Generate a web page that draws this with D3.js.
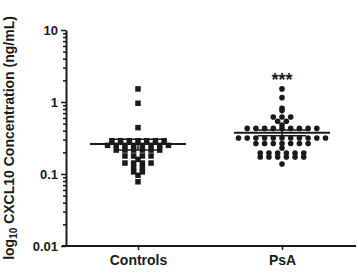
<!DOCTYPE html>
<html>
<head>
<meta charset="utf-8">
<script src="https://cdn.jsdelivr.net/npm/d3@7"></script>
<style>
  body { margin: 0; background: #fff; }
  svg { display: block; font-family: "Liberation Sans", Arial, sans-serif; font-weight: bold; }
</style>
</head>
<body>
<svg id="chart" width="358" height="277"></svg>
<script>
// values (ng/mL)
const categories = ["Controls", "PsA"];
const controlValues = [1.52, 0.96, 0.44,
  0.29, 0.29, 0.29, 0.29, 0.29, 0.29, 0.29,
  0.25, 0.25, 0.25, 0.25, 0.25, 0.25, 0.25, 0.25,
  0.215, 0.215, 0.215, 0.215, 0.215, 0.215,
  0.178, 0.178, 0.178, 0.178, 0.16,
  0.142, 0.142, 0.142, 0.142,
  0.122, 0.122, 0.107, 0.107, 0.096, 0.078];
const psaValues = [1.52, 1.15, 0.82, 0.76,
  0.62, 0.62, 0.62, 0.54, 0.54, 0.48,
  0.43, 0.43, 0.43, 0.43, 0.43, 0.43, 0.43, 0.43, 0.43,
  0.316, 0.316, 0.316, 0.316, 0.316, 0.316, 0.316, 0.316, 0.316, 0.316, 0.316,
  0.265, 0.265, 0.265, 0.265, 0.265, 0.265, 0.265, 0.23,
  0.196, 0.196, 0.196, 0.196, 0.196, 0.196,
  0.172, 0.172, 0.172, 0.172, 0.172, 0.172, 0.138];
const meanValues = [0.26, 0.375];
const semValues = [0.045, 0.034];
const sigLabels = ["", "***"];
const yTicks = [0.01, 0.1, 1, 10];
const yTickLabels = ["0.01", "0.1", "1", "10"];

const width = 358, height = 277;
const margin = { top: 30, right: 4, bottom: 31, left: 66 };

const svg = d3.select("#chart");
svg.append("rect").attr("width", width).attr("height", height).attr("fill", "#fff");

const y = d3.scaleLog()
  .domain([0.01, 10])
  .range([height - margin.bottom, margin.top]);

const x = d3.scalePoint()
  .domain(categories)
  .range([margin.left, width - margin.right])
  .padding(0.5);

////////// axes //////////

const yAxis = svg.append("g")
  .attr("transform", "translate(" + margin.left + ",0)")
  .call(d3.axisLeft(y).tickValues(yTicks)
    .tickFormat((d, i) => yTickLabels[i])
    .tickSize(5).tickSizeOuter(0).tickPadding(3));
yAxis.selectAll("text").attr("font-size", 13).attr("fill", "#1a1a1a");

// minor ticks between the decades
const minorTicks = y.ticks().filter(d => yTicks.indexOf(d) < 0);
svg.append("g")
  .attr("transform", "translate(" + margin.left + ",0)")
  .call(d3.axisLeft(y).tickValues(minorTicks).tickFormat("").tickSize(3).tickSizeOuter(0))
  .select(".domain").remove();

const xAxis = svg.append("g")
  .attr("transform", "translate(0," + (height - margin.bottom) + ")")
  .call(d3.axisBottom(x).tickSize(4).tickSizeOuter(0).tickPadding(5));
xAxis.select(".domain")
  .attr("d", "M" + (x.range()[0] - 4) + ",0H" + (x.range()[1] + 2));
xAxis.selectAll("text").attr("font-size", 14).attr("fill", "#1a1a1a");

svg.selectAll(".domain").attr("stroke", "#1a1a1a").attr("stroke-width", 2);
svg.selectAll(".tick line").attr("stroke", "#1a1a1a").attr("stroke-width", 1.5);

// y title with subscript
const yTitle = svg.append("text")
  .attr("transform", "translate(14," + ((margin.top + height - margin.bottom) / 2 + 0) + ") rotate(-90)")
  .attr("text-anchor", "middle")
  .attr("font-size", 14)
  .attr("fill", "#1a1a1a");
yTitle.append("tspan").text("log");
yTitle.append("tspan").attr("font-size", 10).attr("dy", 3).text("10");
yTitle.append("tspan").attr("dy", -3).text(" CXCL10 Concentration (ng/mL)");

////////// points //////////

const spacing = 8.7;

// GraphPad-style scatter: rows of near-equal values spread out around the center
function layout(values) {
  const sorted = values.slice().sort((a, b) => b - a);
  const rows = [];
  sorted.forEach(function (v) {
    const last = rows[rows.length - 1];
    if (last && Math.abs(y(last[0]) - y(v)) < 1.5) last.push(v);
    else rows.push([v]);
  });
  const pts = [];
  rows.forEach(function (row) {
    row.forEach(function (v, i) {
      pts.push({ value: v, offset: (i - (row.length - 1) / 2) * spacing });
    });
  });
  return pts;
}

const plot = svg.append("g").attr("class", "plot");

plot.selectAll(".ctrl")
  .data(layout(controlValues))
  .enter()
  .append("rect")
  .attr("class", "ctrl")
  .attr("x", d => x("Controls") + d.offset - 2.75)
  .attr("y", d => y(d.value) - 2.75)
  .attr("width", 5.5)
  .attr("height", 5.5)
  .attr("fill", "#1a1a1a");

plot.selectAll(".psa")
  .data(layout(psaValues))
  .enter()
  .append("circle")
  .attr("class", "psa")
  .attr("cx", d => x("PsA") + d.offset)
  .attr("cy", d => y(d.value))
  .attr("r", 2.8)
  .attr("fill", "#1a1a1a");

////////// mean and SEM //////////

const stats = categories.map((c, i) => ({ cat: c, mean: meanValues[i], sem: semValues[i] }));

const bars = svg.append("g").attr("stroke", "#1a1a1a");

bars.selectAll(".mean")
  .data(stats)
  .enter()
  .append("line")
  .attr("x1", d => x(d.cat) - 48)
  .attr("x2", d => x(d.cat) + 48)
  .attr("y1", d => y(d.mean))
  .attr("y2", d => y(d.mean))
  .attr("stroke-width", 2);

bars.selectAll(".sem")
  .data(stats)
  .enter()
  .append("line")
  .attr("x1", d => x(d.cat))
  .attr("x2", d => x(d.cat))
  .attr("y1", d => y(d.mean - d.sem))
  .attr("y2", d => y(d.mean + d.sem))
  .attr("stroke-width", 1.5);

["lo", "hi"].forEach(function (side) {
  bars.selectAll(".cap-" + side)
    .data(stats)
    .enter()
    .append("line")
    .attr("x1", d => x(d.cat) - 24)
    .attr("x2", d => x(d.cat) + 24)
    .attr("y1", d => y(side == "hi" ? d.mean + d.sem : d.mean - d.sem))
    .attr("y2", d => y(side == "hi" ? d.mean + d.sem : d.mean - d.sem))
    .attr("stroke-width", 1.5);
});

// significance marks
svg.selectAll(".sig")
  .data(categories)
  .enter()
  .append("text")
  .attr("x", d => x(d))
  .attr("y", 86)
  .attr("text-anchor", "middle")
  .attr("font-size", 18)
  .attr("fill", "#1a1a1a")
  .text((d, i) => sigLabels[i]);
</script>
</body>
</html>
